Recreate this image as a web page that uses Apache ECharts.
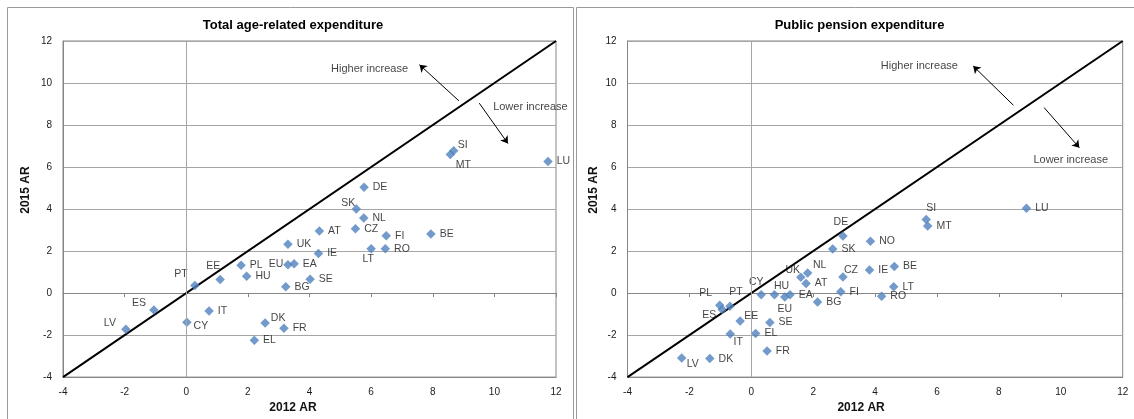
<!DOCTYPE html>
<html><head><meta charset="utf-8">
<script src="https://cdn.jsdelivr.net/npm/echarts@6/dist/echarts.min.js"></script>
<style>html,body{margin:0;padding:0;background:#fff}#c{width:1134px;height:419px}</style>
</head><body><div id="c"></div>
<script>
// ---------------- data ----------------
const axisMin = -4;
const axisMax = 12;
const tickStep = 2;

const chartTitles = ['Total age-related expenditure', 'Public pension expenditure'];
const xAxisName = '2012 AR';
const yAxisName = '2015 AR';

const totalCountries = ['PT','EE','PL','HU','BG','SE','ES','LV','CY','IT','DK','FR','EL','UK','EU','EA','IE','AT','CZ','SK','NL','DE','FI','LT','RO','BE','SI','MT','LU'];
const totalX2012 =     [0.28, 1.10, 1.78, 1.96, 3.23, 4.02, -1.05, -1.96, 0.02, 0.74, 2.56, 3.17, 2.21, 3.30, 3.30, 3.50, 4.29, 4.32, 5.49, 5.52, 5.76, 5.77, 6.49, 6.00, 6.46, 7.94, 8.68, 8.57, 11.74];
const totalY2015 =     [0.36, 0.65, 1.32, 0.80, 0.30, 0.66, -0.81, -1.72, -1.39, -0.85, -1.42, -1.68, -2.25, 2.33, 1.35, 1.40, 1.88, 2.95, 3.06, 4.00, 3.57, 5.04, 2.73, 2.11, 2.11, 2.81, 6.78, 6.60, 6.26];

const pensionCountries = ['PL','ES','PT','EE','IT','EL','SE','FR','LV','DK','CY','HU','EU','EA','BG','FI','RO','LT','DE','SK','UK','NL','AT','CZ','IE','BE','NO','SI','MT','LU'];
const pensionX2012 =     [-1.02, -0.94, -0.69, -0.36, -0.68, 0.14, 0.60, 0.51, -2.25, -1.34, 0.32, 0.75, 1.08, 1.25, 2.14, 2.89, 4.21, 4.60, 2.96, 2.63, 1.60, 1.82, 1.77, 2.96, 3.82, 4.62, 3.85, 5.65, 5.70, 8.89];
const pensionY2015 =     [-0.58, -0.78, -0.63, -1.33, -1.95, -1.92, -1.40, -2.76, -3.09, -3.12, -0.08, -0.08, -0.19, -0.08, -0.42, 0.06, -0.15, 0.30, 2.72, 2.10, 0.75, 0.95, 0.46, 0.77, 1.10, 1.27, 2.47, 3.50, 3.19, 4.04];

const noteTexts = ['Higher increase', 'Lower increase'];
const totalNoteX = [5.95, 11.17];
const totalNoteY = [10.66, 8.84];
const pensionNoteX = [5.43, 10.32];
const pensionNoteY = [10.79, 6.36];
const totalArrowFrom = [[8.85, 9.15], [9.51, 9.04]];
const totalArrowTo   = [[7.57, 10.87], [10.44, 7.12]];
const pensionArrowFrom = [[8.47, 8.94], [9.46, 8.83]];
const pensionArrowTo   = [[7.17, 10.81], [10.60, 6.92]];

// ---------------- styles / layout ----------------
const FONT = "'Liberation Sans', Arial, sans-serif";
const MARK_COLOR = '#4F81BD';
const BORDER = '#868686';
const GRIDC = '#a6a6a6';

// label centre offsets (px) for labels not placed to the right of their point
const totalLabelShift = {PT:[-14,-11], EE:[-7,-13], ES:[-15,-7], LV:[-16,-6], CY:[14,4], DK:[13,-5], SK:[-8,-6], LT:[-3,10], SI:[9,-6], MT:[13,11], EU:[-12,-1]};
const pensionLabelShift = {PL:[-14,-12], PT:[6,-14], ES:[-13,6], CY:[-5,-13], HU:[7,-9], EU:[0,12], UK:[-8,-7], NL:[12,-8], CZ:[8,-7], DE:[-2,-14], SI:[5,-11], EE:[11,-5], IT:[8,8], LV:[11,6]};

const panels = [
  {countries: totalCountries, xs: totalX2012, ys: totalY2015, shift: totalLabelShift,
   noteX: totalNoteX, noteY: totalNoteY, arrowFrom: totalArrowFrom, arrowTo: totalArrowTo,
   grid: {left: 63, top: 41, width: 493, height: 340.5}, titleX: 293, yNameGap: 31, xPad: 33, frame: [7.5, 7.5, 566, 440]},
  {countries: pensionCountries, xs: pensionX2012, ys: pensionY2015, shift: pensionLabelShift,
   noteX: pensionNoteX, noteY: pensionNoteY, arrowFrom: pensionArrowFrom, arrowTo: pensionArrowTo,
   grid: {left: 627.5, top: 41, width: 495.2, height: 339.7}, titleX: 859.5, yNameGap: 28, xPad: 28, frame: [576.5, 7.5, 580, 440]}
];

const labelBase = {show: true, fontFamily: FONT, fontSize: 10.5, color: '#111', textBorderWidth: 0, formatter: '{b}'};

const grids = [], xAxes = [], yAxes = [], series = [], graphics = [];
panels.forEach((p, i) => {
  grids.push(Object.assign({show: true, borderColor: BORDER, borderWidth: 1, backgroundColor: 'transparent', containLabel: false}, p.grid));
  // labelled bottom axis
  xAxes.push({gridIndex: i, type: 'value', min: axisMin, max: axisMax, interval: tickStep, position: 'bottom',
    axisLine: {show: true, onZero: false, lineStyle: {color: BORDER}}, axisTick: {show: false},
    splitLine: {show: false},
    axisLabel: {color: '#1a1a1a', fontFamily: FONT, fontSize: 10, margin: 10},
    name: xAxisName, nameLocation: 'middle', nameGap: 21,
    nameTextStyle: {fontFamily: FONT, fontWeight: 'bold', fontSize: 12, color: '#111', padding: [0, p.xPad, 0, 0]}});
  // horizontal axis line through zero with ticks
  xAxes.push({gridIndex: i, type: 'value', min: axisMin, max: axisMax, interval: tickStep, position: 'bottom',
    axisLine: {show: true, onZero: true, lineStyle: {color: BORDER}},
    axisTick: {show: true, length: 4, lineStyle: {color: BORDER}},
    axisLabel: {show: false}, splitLine: {show: false}});
  yAxes.push({gridIndex: i, type: 'value', min: axisMin, max: axisMax, interval: tickStep,
    axisLine: {show: true, onZero: false, lineStyle: {color: BORDER}}, axisTick: {show: false},
    splitLine: {show: true, lineStyle: {color: GRIDC, width: 1}},
    axisLabel: {color: '#1a1a1a', fontFamily: FONT, fontSize: 10, margin: 11},
    name: yAxisName, nameLocation: 'middle', nameGap: p.yNameGap,
    nameTextStyle: {fontFamily: FONT, fontWeight: 'bold', fontSize: 12, color: '#111', padding: [0, 0, 0, 38]}});

  const xi = i * 2, yi = i;
  // diagonal 45-degree line
  series.push({type: 'line', xAxisIndex: xi, yAxisIndex: yi, silent: true, symbol: 'none',
    data: [[axisMin, axisMin], [axisMax, axisMax]], lineStyle: {color: '#000', width: 2}, z: 3});
  // country points
  series.push({type: 'scatter', xAxisIndex: xi, yAxisIndex: yi, symbol: 'diamond', symbolSize: 9.5,
    itemStyle: {color: MARK_COLOR}, z: 4,
    data: p.countries.map((c, k) => {
      const s = p.shift[c];
      const lab = s ? Object.assign({}, labelBase, {position: 'inside', offset: s})
                    : Object.assign({}, labelBase, {position: 'right', distance: 4});
      return {name: c, value: [p.xs[k], p.ys[k]], label: lab};
    }),
    markLine: {silent: true, symbol: 'none', label: {show: false},
      lineStyle: {color: GRIDC, width: 1, type: 'solid'}, data: [{xAxis: 0}]}
  });
  // annotations
  series.push({type: 'scatter', xAxisIndex: xi, yAxisIndex: yi, symbolSize: 0, silent: true, z: 5,
    data: noteTexts.map((t, k) => ({name: t, value: [p.noteX[k], p.noteY[k]]})),
    label: {show: true, position: 'inside', formatter: '{b}', fontFamily: FONT, fontSize: 11, color: '#111', textBorderWidth: 0},
    markLine: {silent: true, symbol: ['none', 'arrow'], symbolSize: 7, label: {show: false},
      lineStyle: {color: '#000', width: 1, type: 'solid'},
      data: p.arrowFrom.map((f, k) => [{coord: f}, {coord: p.arrowTo[k]}])}
  });

  graphics.push({type: 'rect', silent: true, z: 0,
    shape: {x: p.frame[0], y: p.frame[1], width: p.frame[2], height: p.frame[3]},
    style: {fill: null, stroke: '#9a9a9a', lineWidth: 1}});
  graphics.push({type: 'text', silent: true, x: p.titleX, y: 25,
    style: {text: chartTitles[i], font: "bold 13px " + FONT, fill: '#000', textAlign: 'center', textVerticalAlign: 'middle'}});
});

const chart = echarts.init(document.getElementById('c'), null, {renderer: 'canvas'});
chart.setOption({
  animation: false,
  backgroundColor: '#fff',
  grid: grids, xAxis: xAxes, yAxis: yAxes, series: series, graphic: graphics
});
</script></body></html>
